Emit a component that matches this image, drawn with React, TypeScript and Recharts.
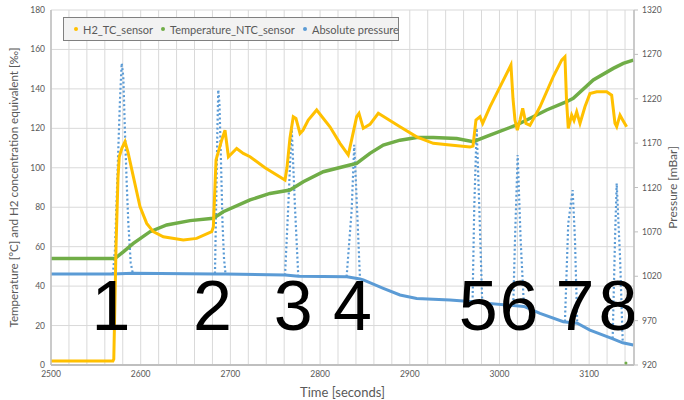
import React from 'react';
import { ComposedChart, Line, Scatter, XAxis, YAxis, CartesianGrid, Label } from 'recharts';

const timeTicks = [2500, 2520, 2540, 2560, 2580, 2600, 2620, 2640, 2660, 2680, 2700, 2720, 2740, 2760, 2780, 2800, 2820, 2840, 2860, 2880, 2900, 2920, 2940, 2960, 2980, 3000, 3020, 3040, 3060, 3080, 3100, 3120, 3140];
const timeLabels = [2500, 2600, 2700, 2800, 2900, 3000, 3100];
const leftTicks = [0, 20, 40, 60, 80, 100, 120, 140, 160, 180];
const rightTicks = [920, 970, 1020, 1070, 1120, 1170, 1220, 1270, 1320];

const h2Sensor = [
  { t: 2500, v: 2 }, { t: 2569, v: 2 }, { t: 2570, v: 3 }, { t: 2572.5, v: 60 }, { t: 2574.7, v: 95 },
  { t: 2576.1, v: 105.6 }, { t: 2579.1, v: 110 }, { t: 2582.5, v: 113.2 }, { t: 2585.8, v: 108 },
  { t: 2591.8, v: 95.5 }, { t: 2599.2, v: 80.3 }, { t: 2606.7, v: 71.8 }, { t: 2614, v: 67.6 },
  { t: 2625.2, v: 65 }, { t: 2647.5, v: 63.4 }, { t: 2662.4, v: 64.2 }, { t: 2679.2, v: 67.6 },
  { t: 2681, v: 70 }, { t: 2684, v: 104 }, { t: 2690.3, v: 114 }, { t: 2694, v: 119 },
  { t: 2697.8, v: 105.6 }, { t: 2707, v: 109.8 }, { t: 2714.4, v: 107.3 }, { t: 2721.9, v: 105.6 },
  { t: 2738.6, v: 100 }, { t: 2760.9, v: 93.8 }, { t: 2763.1, v: 100 }, { t: 2766.4, v: 115 },
  { t: 2770.1, v: 125.9 }, { t: 2773.1, v: 125 }, { t: 2777.6, v: 117.4 }, { t: 2780.9, v: 119 },
  { t: 2786.8, v: 124.2 }, { t: 2796.2, v: 129.3 }, { t: 2811, v: 120.8 }, { t: 2822.2, v: 112.4 },
  { t: 2831.4, v: 106.5 }, { t: 2835.6, v: 115 }, { t: 2840.8, v: 125.9 }, { t: 2843.4, v: 127.6 },
  { t: 2848.2, v: 120 }, { t: 2855.6, v: 122 }, { t: 2864.9, v: 127.6 }, { t: 2889.1, v: 120.8 },
  { t: 2907.7, v: 115.7 }, { t: 2926.2, v: 112.4 }, { t: 2944.8, v: 111.5 }, { t: 2967.1, v: 110.5 },
  { t: 2970.5, v: 111 }, { t: 2973.8, v: 124.2 }, { t: 2978.3, v: 125.9 }, { t: 2981.3, v: 122.5 },
  { t: 2989.4, v: 130.9 }, { t: 3000.6, v: 141 }, { t: 3012.8, v: 152.1 }, { t: 3015.1, v: 135 },
  { t: 3017.3, v: 124.2 }, { t: 3019.9, v: 119.1 }, { t: 3022.9, v: 124.2 }, { t: 3025.9, v: 130.1 },
  { t: 3029.5, v: 122.5 }, { t: 3034, v: 121.5 }, { t: 3045.2, v: 130.9 }, { t: 3060, v: 146.2 },
  { t: 3069.4, v: 154.6 }, { t: 3073, v: 156.3 }, { t: 3074.7, v: 135 }, { t: 3076.7, v: 120 },
  { t: 3080.5, v: 126.7 }, { t: 3083.1, v: 124 }, { t: 3086.1, v: 128.4 }, { t: 3089.8, v: 122.5 },
  { t: 3095.3, v: 130.9 }, { t: 3100.9, v: 137.6 }, { t: 3108.4, v: 138.5 }, { t: 3119.5, v: 138.5 },
  { t: 3125.1, v: 136.8 }, { t: 3128.8, v: 122.5 }, { t: 3130.7, v: 120.8 }, { t: 3134.4, v: 126.7 },
  { t: 3137.7, v: 124 }, { t: 3141.8, v: 120.8 },
];

const ntcSensor = [
  { t: 2500, v: 54 }, { t: 2571.3, v: 54 }, { t: 2580.6, v: 57.4 }, { t: 2591.8, v: 61.7 },
  { t: 2610.4, v: 67.6 }, { t: 2629, v: 71 }, { t: 2655, v: 73.2 }, { t: 2681, v: 74.4 },
  { t: 2692.1, v: 77.7 }, { t: 2721.9, v: 83.7 }, { t: 2744.1, v: 87 }, { t: 2766.4, v: 88.7 },
  { t: 2781.3, v: 92.9 }, { t: 2803.6, v: 98 }, { t: 2833.3, v: 101.4 }, { t: 2840.8, v: 102.2 },
  { t: 2855.6, v: 107.3 }, { t: 2870.5, v: 111.5 }, { t: 2889.1, v: 114 }, { t: 2907.7, v: 115.4 },
  { t: 2926.2, v: 115.4 }, { t: 2952.3, v: 114.8 }, { t: 2970.8, v: 113.2 }, { t: 2989.4, v: 116.6 },
  { t: 3019.2, v: 121.7 }, { t: 3030.3, v: 124.2 }, { t: 3052.6, v: 129.3 }, { t: 3074.9, v: 133.5 },
  { t: 3082.3, v: 135.2 }, { t: 3104.6, v: 144.5 }, { t: 3126.9, v: 150.4 }, { t: 3138, v: 152.9 },
  { t: 3149.2, v: 154.6 },
];
const ntcOutlier = [{ t: 3141, v: 1 }];

const pressureBase = [
  { t: 2500, p: 1022.5 }, { t: 2569, p: 1022.5 }, { t: 2591, p: 1023.5 }, { t: 2683, p: 1022.5 },
  { t: 2694, p: 1022.5 }, { t: 2761, p: 1021.5 }, { t: 2776, p: 1020 }, { t: 2830, p: 1019.5 },
  { t: 2844.5, p: 1017 }, { t: 2848.2, p: 1015.8 }, { t: 2870.5, p: 1006.4 }, { t: 2889.1, p: 998.9 },
  { t: 2907.7, p: 995 }, { t: 2944.8, p: 993.3 }, { t: 2970.8, p: 991.3 }, { t: 2981, p: 990 },
  { t: 3008, p: 987.6 }, { t: 3015.4, p: 987 }, { t: 3027.3, p: 986 }, { t: 3045.2, p: 978.2 },
  { t: 3071.2, p: 968.8 }, { t: 3086.7, p: 967 }, { t: 3100.9, p: 959.4 }, { t: 3125.1, p: 950 },
  { t: 3137.4, p: 945 }, { t: 3149.2, p: 942.5 },
];

const pressureSpikes = [
  { t: 2569, p: 1022.5 }, { t: 2571.3, p: 1049.6 }, { t: 2573.2, p: 1106 }, { t: 2575, p: 1162 },
  { t: 2576.9, p: 1218.7 }, { t: 2578.8, p: 1260 }, { t: 2580.6, p: 1245 }, { t: 2582.5, p: 1181 },
  { t: 2584.4, p: 1125 }, { t: 2586.2, p: 1080 }, { t: 2588.9, p: 1035 }, { t: 2591.1, p: 1023.7 },
  { t: 2591.2, p: null },
  { t: 2682.8, p: 1023 }, { t: 2684.5, p: 1120 }, { t: 2685.6, p: 1190 }, { t: 2686.5, p: 1230 },
  { t: 2687.8, p: 1215 }, { t: 2689.5, p: 1150 }, { t: 2691.2, p: 1080 }, { t: 2692.9, p: 1040 },
  { t: 2694.5, p: 1023 },
  { t: 2694.6, p: null },
  { t: 2760.9, p: 1021 }, { t: 2764.5, p: 1098 }, { t: 2768.3, p: 1188.6 }, { t: 2772, p: 1098 },
  { t: 2775.7, p: 1020 },
  { t: 2775.8, p: null },
  { t: 2829.6, p: 1019.5 }, { t: 2835.2, p: 1094.6 }, { t: 2838.1, p: 1168 }, { t: 2840.8, p: 1106 },
  { t: 2844.5, p: 1017 },
  { t: 2844.6, p: null },
  { t: 2970, p: 991 }, { t: 2971.9, p: 1098 }, { t: 2974.6, p: 1186.7 }, { t: 2977.5, p: 1098 },
  { t: 2980.8, p: 990 },
  { t: 2980.9, p: null },
  { t: 3015.4, p: 988 }, { t: 3017.3, p: 1060.9 }, { t: 3020.3, p: 1156.7 }, { t: 3023.6, p: 1061 },
  { t: 3027.3, p: 986 },
  { t: 3027.4, p: null },
  { t: 3073, p: 969 }, { t: 3076.7, p: 1079.6 }, { t: 3081.6, p: 1117 }, { t: 3084.2, p: 1061 },
  { t: 3086.7, p: 967 },
  { t: 3086.8, p: null },
  { t: 3126.2, p: 950 }, { t: 3128.8, p: 1061 }, { t: 3130.7, p: 1124.7 }, { t: 3134.4, p: 1042 },
  { t: 3137.4, p: 946 },
];

const eventMarkers = [
  { t: 2566.9, v: 18, label: '1' }, { t: 2680, v: 18, label: '2' }, { t: 2770.1, v: 18, label: '3' },
  { t: 2836.1, v: 18, label: '4' }, { t: 2976.4, v: 18, label: '5' }, { t: 3021.7, v: 18, label: '6' },
  { t: 3084.2, v: 18, label: '7' }, { t: 3132.1, v: 18, label: '8' },
];

const legendItems = [
  { name: 'H2_TC_sensor', color: '#FFC000' },
  { name: 'Temperature_NTC_sensor', color: '#70AD47' },
  { name: 'Absolute pressure', color: '#5B9BD5' },
];

const YELLOW = '#FFC000';
const GREEN = '#70AD47';
const BLUE = '#5B9BD5';
const TXT = '#595959';
const FONT = 'Lato, "Open Sans", sans-serif';

const renderDigit = (props: any) => {
  const { cx, cy, payload } = props;
  return (
    <text x={cx} y={cy} textAnchor="middle" fontSize={70} fontFamily='"Liberation Sans", Arial, sans-serif' fill="#000">
      {payload.label}
    </text>
  );
};

const renderOutlier = (props: any) => <circle cx={props.cx} cy={props.cy} r={1.5} fill={GREEN} />;

const leftTitle = (props: any) => {
  const vb = props.viewBox;
  const x = 13;
  const y = vb.y + vb.height / 2;
  return (
    <text x={x} y={y} transform={`rotate(-90, ${x}, ${y})`} textAnchor="middle" dominantBaseline="central" fontSize={11.6} fill={TXT} fontFamily={FONT}>
      Temperature [°C] and H2 concentration equivalent [‰]
    </text>
  );
};

const rightTitle = (props: any) => {
  const vb = props.viewBox;
  const x = 672;
  const y = vb.y + vb.height / 2;
  return (
    <text x={x} y={y} transform={`rotate(-90, ${x}, ${y})`} textAnchor="middle" dominantBaseline="central" fontSize={12} fill={TXT} fontFamily={FONT}>
      Pressure [mBar]
    </text>
  );
};

const bottomTitle = (props: any) => {
  const vb = props.viewBox;
  const x = vb.x + vb.width / 2;
  return (
    <text x={x} y={392} textAnchor="middle" dominantBaseline="central" fontSize={13} fill={TXT} fontFamily={FONT}>
      Time [seconds]
    </text>
  );
};

const legendLefts = [10, 97, 239];

export default function App() {
  return (
    <div style={{ position: 'absolute', left: 0, top: 0, width: 684, height: 400, background: '#fff' }}>
      <ComposedChart width={684} height={400} margin={{ top: 10, right: 0, bottom: 0, left: 0 }} style={{ fontFamily: FONT }}>
        <CartesianGrid yAxisId="left" stroke="#d9d9d9" strokeWidth={1} />
        <XAxis
          type="number"
          dataKey="t"
          domain={[2500, 3150]}
          allowDataOverflow
          ticks={timeTicks}
          interval={0}
          tickFormatter={(v: number) => (timeLabels.includes(v) ? String(v) : '')}
          tickLine={false}
          axisLine={{ stroke: '#bfbfbf', strokeWidth: 2 }}
          tick={{ fontSize: 8.5, fill: TXT }}
          tickMargin={0}
          height={35}
        >
          <Label content={bottomTitle} />
        </XAxis>
        <YAxis
          yAxisId="left"
          type="number"
          domain={[0, 180]}
          allowDataOverflow
          ticks={leftTicks}
          interval={0}
          tickLine={false}
          axisLine={{ stroke: '#bfbfbf', strokeWidth: 1.5 }}
          tick={{ fontSize: 8.5, fill: TXT }}
          tickMargin={0}
          width={51}
        >
          <Label content={leftTitle} />
        </YAxis>
        <YAxis
          yAxisId="right"
          orientation="right"
          type="number"
          domain={[920, 1320]}
          allowDataOverflow
          ticks={rightTicks}
          interval={0}
          tickLine={{ stroke: '#bfbfbf' }}
          tickSize={4}
          tickMargin={4}
          axisLine={{ stroke: '#bfbfbf', strokeWidth: 1.5 }}
          tick={{ fontSize: 8.5, fill: TXT }}
          width={50}
        >
          <Label content={rightTitle} />
        </YAxis>
        <Line data={pressureBase} dataKey="p" yAxisId="right" type="linear" stroke={BLUE} strokeWidth={3} dot={false} isAnimationActive={false} name="Absolute pressure" />
        <Line data={pressureSpikes} dataKey="p" yAxisId="right" type="linear" stroke={BLUE} strokeWidth={2.2} strokeDasharray="2 2.5" dot={false} connectNulls={false} isAnimationActive={false} legendType="none" />
        <Line data={ntcSensor} dataKey="v" yAxisId="left" type="linear" stroke={GREEN} strokeWidth={3.5} dot={false} isAnimationActive={false} name="Temperature_NTC_sensor" />
        <Line data={h2Sensor} dataKey="v" yAxisId="left" type="linear" stroke={YELLOW} strokeWidth={3} dot={false} isAnimationActive={false} name="H2_TC_sensor" />
        <Scatter data={ntcOutlier} dataKey="v" yAxisId="left" shape={renderOutlier} isAnimationActive={false} legendType="none" />
        <Scatter data={eventMarkers} dataKey="v" yAxisId="left" shape={renderDigit} isAnimationActive={false} legendType="none" />
      </ComposedChart>
      <div
        style={{
          position: 'absolute', left: 63, top: 17, width: 336, height: 24, boxSizing: 'border-box',
          background: '#f2f2f2', border: '1px solid #808080', fontFamily: FONT, fontSize: 11, color: TXT,
        }}
      >
        {legendItems.map((it, i) => (
          <div key={it.name} style={{ position: 'absolute', left: legendLefts[i], top: 0, height: 22, display: 'flex', alignItems: 'center', whiteSpace: 'nowrap' }}>
            <span style={{ display: 'inline-block', width: 4, height: 4, borderRadius: 2, background: it.color, marginRight: 5 }} />
            <span>{it.name}</span>
          </div>
        ))}
      </div>
    </div>
  );
}
